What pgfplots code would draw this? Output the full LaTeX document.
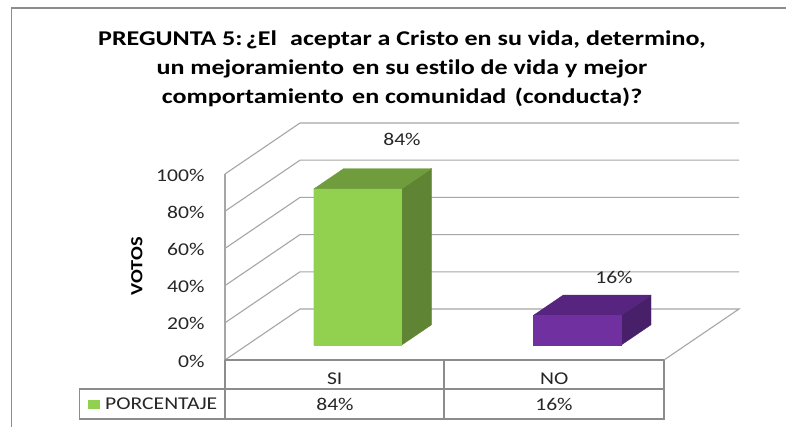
\documentclass[border=0pt]{standalone}
\usepackage{fontspec}
\usepackage{pgfplots}
\pgfplotsset{compat=1.18}
\setmainfont{Carlito}
\newfontfamily\wide[FakeStretch=1.2]{Carlito}
\newfontfamily\widet[FakeStretch=1.24,Ligatures=NoCommon]{Carlito}
\definecolor{gridg}{HTML}{A6A6A6}
\definecolor{bord}{HTML}{8C8C8C}
\definecolor{gf}{HTML}{92D050}
\definecolor{gt}{HTML}{6F9C3D}
\definecolor{gs}{HTML}{5F8433}
\definecolor{pf}{HTML}{7030A0}
\definecolor{pt}{HTML}{572480}
\definecolor{ps}{HTML}{48206A}
\begin{document}
\begin{tikzpicture}[x=1pt,y=-1pt]
\path[use as bounding box,fill=white] (0,0) rectangle (786,427);
% chart frame
\draw[bord,line width=1.4pt] (11.5,427) -- (11.5,8) -- (786,8);
% 3D plot
\begin{axis}[
  at={(225pt,-360pt)},anchor=origin,
  hide axis,clip=false,
  x={(219.5pt,0pt)},y={(75pt,51pt)},z={(0pt,1.86pt)},
  xmin=0,xmax=2,ymin=0,ymax=1,zmin=0,zmax=100,
]
% walls and grid
\addplot3[gridg,line width=1.1pt] coordinates {(0,0,0)(2,0,0)(2,1,0)(0,1,0)(0,0,0)};
\addplot3[gridg,line width=1.1pt] coordinates {(0,0,0)(0,0,100)};
\addplot3[gridg,line width=1.1pt] coordinates {(0,0,20)(0,1,20)(2,1,20)};
\addplot3[gridg,line width=1.1pt] coordinates {(0,0,40)(0,1,40)(2,1,40)};
\addplot3[gridg,line width=1.1pt] coordinates {(0,0,60)(0,1,60)(2,1,60)};
\addplot3[gridg,line width=1.1pt] coordinates {(0,0,80)(0,1,80)(2,1,80)};
\addplot3[gridg,line width=1.1pt] coordinates {(0,0,100)(0,1,100)(2,1,100)};
% bar SI = 84
\addplot3[fill=gs,draw=gs,line width=.3pt] coordinates {(0.705,0.29,0)(0.705,0.69,0)(0.705,0.69,84)(0.705,0.29,84)(0.705,0.29,0)};
\addplot3[fill=gt,draw=gt,line width=.3pt] coordinates {(0.305,0.29,84)(0.705,0.29,84)(0.705,0.69,84)(0.305,0.69,84)(0.305,0.29,84)};
\addplot3[fill=gf,draw=gf,line width=.3pt] coordinates {(0.305,0.29,0)(0.705,0.29,0)(0.705,0.29,84)(0.305,0.29,84)(0.305,0.29,0)};
% bar NO = 16
\addplot3[fill=ps,draw=ps,line width=.3pt] coordinates {(1.705,0.29,0)(1.705,0.69,0)(1.705,0.69,16)(1.705,0.29,16)(1.705,0.29,0)};
\addplot3[fill=pt,draw=pt,line width=.3pt] coordinates {(1.305,0.29,16)(1.705,0.29,16)(1.705,0.69,16)(1.305,0.69,16)(1.305,0.29,16)};
\addplot3[fill=pf,draw=pf,line width=.3pt] coordinates {(1.305,0.29,0)(1.705,0.29,0)(1.705,0.29,16)(1.305,0.29,16)(1.305,0.29,0)};
\end{axis}
% tick labels
\begin{axis}[
  at={(225pt,-360pt)},anchor=south west,
  scale only axis,width=439pt,height=186pt,
  xmin=0,xmax=2,ymin=0,ymax=100,
  clip=false,
  axis line style={draw=none},major tick style={draw=none},
  xtick={0.5,1.5},xticklabels={SI,NO},
  ytick={0,20,40,60,80,100},
  yticklabels={0\%,20\%,40\%,60\%,80\%,100\%},
  tick label style={font=\wide\fontsize{18}{18}\selectfont,text=black!85},
  yticklabel style={anchor=east,xshift=-17pt,yshift=-1pt},
  xticklabel style={anchor=center,yshift=-18.8pt},
  ylabel={VOTOS},
  every axis y label/.style={at={(axis description cs:-0.2005,0.505)},rotate=90,anchor=center,font=\wide\fontsize{17}{17}\selectfont\bfseries},
]
\end{axis}
% data table
\draw[bord,line width=1.1pt] (225,360) -- (664,360) (664,360) -- (664,419) -- (79.5,419) -- (79.5,389) -- (664,389)
  (225,360) -- (225,419) (444,360) -- (444,419);
\fill[gf] (88,399.5) rectangle (99.5,408.7);
\node[anchor=west,inner sep=0,text=black!85,font=\wide\fontsize{18}{18}\selectfont] at (105,404) {PORCENTAJE};
\node[text=black!85,font=\wide\fontsize{18}{18}\selectfont] at (335,404) {84\%};
\node[text=black!85,font=\wide\fontsize{18}{18}\selectfont] at (554,404) {16\%};
% data labels
\node[text=black!85,font=\wide\fontsize{18}{18}\selectfont] at (402,139) {84\%};
\node[text=black!85,font=\wide\fontsize{18}{18}\selectfont] at (614,277) {16\%};
% title
\node[align=center,inner sep=0,font=\widet\fontsize{21}{29}\selectfont\bfseries] at (402,69) {PREGUNTA 5:\hspace{.15em}¿El\hspace{.35em} aceptar a Cristo en su vida, determino,\\un mejoramiento\hspace{.12em} en su estilo de vida y mejor\\comportamiento\hspace{.12em} en comunidad\hspace{.12em} (conducta)?};
\end{tikzpicture}
\end{document}
